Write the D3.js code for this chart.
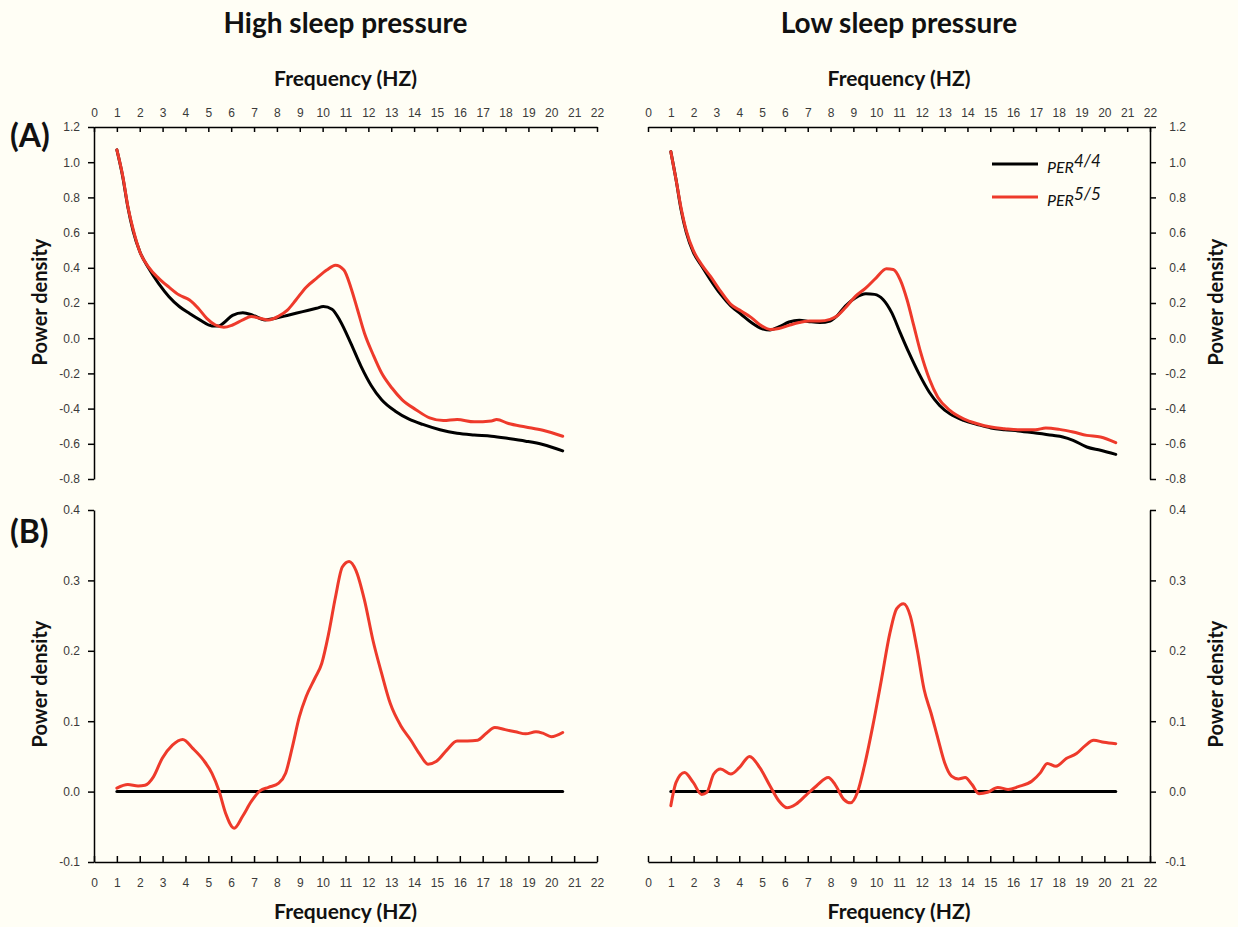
<!DOCTYPE html>
<html>
<head>
<meta charset="utf-8">
<script src="https://cdn.jsdelivr.net/npm/d3@7"></script>
<style>
  html, body { margin: 0; padding: 0; background: #fffef5; }
  svg { display: block; font-family: Lato, "Open Sans", sans-serif; }
  .tick text { fill: #3a3a3a; font-size: 12px; }
  .domain, .tick line { stroke: #000; stroke-width: 1.5px; }
</style>
</head>
<body>
<svg id="chart" width="1238" height="927"></svg>
<script>
// Tick values
const xTickValues = d3.range(0, 23);
const specTickValues = [-0.8, -0.6, -0.4, -0.2, 0.0, 0.2, 0.4, 0.6, 0.8, 1.0, 1.2];
const diffTickValues = [-0.1, 0.0, 0.1, 0.2, 0.3, 0.4];

// (A) High sleep pressure spectra
const highFreq44 = [1.00, 1.26, 1.48, 1.71, 2.01, 2.38, 2.83, 3.28, 3.73, 4.18, 4.63, 5.16, 5.46, 5.68, 6.06, 6.51, 6.96, 7.48, 7.93, 8.53, 9.13, 9.73, 10.03, 10.41, 10.78, 11.23, 11.68, 12.13, 12.58, 13.18, 13.78, 14.38, 15.13, 15.88, 16.63, 17.38, 18.13, 18.88, 19.63, 20.5];
const highPer44  = [1.07, 0.915, 0.745, 0.61, 0.49, 0.40, 0.31, 0.236, 0.18, 0.14, 0.104, 0.07, 0.07, 0.088, 0.13, 0.145, 0.13, 0.104, 0.113, 0.132, 0.151, 0.17, 0.18, 0.165, 0.095, -0.028, -0.16, -0.27, -0.35, -0.415, -0.46, -0.49, -0.52, -0.54, -0.55, -0.557, -0.57, -0.585, -0.604, -0.64];
const highFreq55 = [1.00, 1.26, 1.48, 1.71, 2.01, 2.38, 2.83, 3.28, 3.73, 4.18, 4.56, 4.93, 5.31, 5.68, 6.06, 6.51, 6.88, 7.26, 7.63, 8.08, 8.46, 8.83, 9.28, 9.73, 10.18, 10.56, 10.93, 11.23, 11.53, 11.83, 12.21, 12.58, 13.03, 13.48, 14.08, 14.68, 15.28, 15.88, 16.63, 17.38, 17.61, 18.13, 18.88, 19.63, 20.5];
const highPer55  = [1.07, 0.92, 0.75, 0.62, 0.49, 0.405, 0.34, 0.29, 0.245, 0.217, 0.17, 0.113, 0.075, 0.062, 0.075, 0.104, 0.123, 0.113, 0.104, 0.126, 0.16, 0.217, 0.29, 0.34, 0.387, 0.415, 0.387, 0.29, 0.16, 0.028, -0.094, -0.198, -0.283, -0.35, -0.406, -0.453, -0.468, -0.462, -0.475, -0.47, -0.462, -0.485, -0.504, -0.523, -0.557];

// (A) Low sleep pressure spectra
const lowFreq44 = [1.00, 1.23, 1.45, 1.68, 1.98, 2.35, 2.73, 3.18, 3.63, 4.08, 4.53, 4.98, 5.35, 5.73, 6.18, 6.63, 7.08, 7.53, 7.98, 8.28, 8.65, 9.10, 9.55, 9.93, 10.30, 10.68, 11.05, 11.43, 11.88, 12.33, 12.78, 13.23, 13.83, 14.43, 15.03, 15.63, 16.23, 16.98, 17.73, 18.18, 18.63, 19.23, 19.83, 20.5];
const lowPer44  = [1.06, 0.90, 0.73, 0.60, 0.49, 0.41, 0.333, 0.25, 0.183, 0.136, 0.089, 0.055, 0.047, 0.064, 0.092, 0.102, 0.094, 0.089, 0.098, 0.126, 0.183, 0.23, 0.252, 0.249, 0.22, 0.145, 0.032, -0.081, -0.203, -0.307, -0.382, -0.43, -0.467, -0.49, -0.51, -0.52, -0.527, -0.539, -0.552, -0.561, -0.58, -0.618, -0.637, -0.66];
const lowFreq55 = [1.00, 1.23, 1.45, 1.68, 1.98, 2.35, 2.73, 3.18, 3.63, 4.08, 4.53, 4.98, 5.35, 5.73, 6.18, 6.63, 7.08, 7.53, 7.98, 8.28, 8.65, 9.10, 9.55, 10.00, 10.45, 10.75, 11.05, 11.35, 11.65, 11.95, 12.33, 12.70, 13.23, 13.83, 14.43, 15.03, 15.63, 16.23, 16.98, 17.43, 18.03, 18.63, 19.23, 19.83, 20.5];
const lowPer55  = [1.06, 0.90, 0.74, 0.61, 0.50, 0.418, 0.352, 0.267, 0.192, 0.154, 0.117, 0.07, 0.05, 0.055, 0.073, 0.089, 0.098, 0.098, 0.107, 0.126, 0.173, 0.239, 0.286, 0.343, 0.394, 0.39, 0.333, 0.22, 0.07, -0.081, -0.232, -0.335, -0.41, -0.458, -0.486, -0.505, -0.514, -0.52, -0.52, -0.51, -0.518, -0.533, -0.552, -0.561, -0.593];

// (B) PER5/5 minus PER4/4
const refFreq = [1.0, 20.5];
const refDiff = [0.0, 0.0];
const highDiffFreq = [1.00, 1.48, 1.93, 2.23, 2.60, 2.98, 3.43, 3.88, 4.33, 4.78, 5.16, 5.46, 5.76, 6.13, 6.50, 6.88, 7.26, 7.63, 8.08, 8.38, 8.68, 8.98, 9.28, 9.66, 9.96, 10.26, 10.56, 10.86, 11.16, 11.46, 11.83, 12.20, 12.58, 12.96, 13.41, 13.86, 14.23, 14.61, 14.98, 15.43, 15.88, 16.33, 16.78, 17.16, 17.53, 17.98, 18.43, 18.88, 19.33, 19.63, 20.00, 20.5];
const highDiff     = [0.005, 0.010, 0.008, 0.009, 0.021, 0.047, 0.066, 0.074, 0.061, 0.045, 0.026, 0.002, -0.031, -0.052, -0.035, -0.014, 0.001, 0.006, 0.012, 0.026, 0.064, 0.106, 0.135, 0.161, 0.182, 0.224, 0.276, 0.319, 0.327, 0.314, 0.272, 0.215, 0.168, 0.125, 0.094, 0.073, 0.054, 0.039, 0.043, 0.059, 0.072, 0.072, 0.073, 0.083, 0.091, 0.088, 0.085, 0.082, 0.085, 0.083, 0.078, 0.084];
const lowDiffFreq = [1.00, 1.23, 1.60, 1.98, 2.35, 2.58, 2.88, 3.18, 3.63, 4.00, 4.45, 4.90, 5.35, 5.73, 6.10, 6.48, 6.93, 7.38, 7.90, 8.20, 8.58, 8.88, 9.18, 9.48, 9.85, 10.23, 10.60, 10.90, 11.20, 11.50, 11.80, 12.10, 12.40, 12.70, 13.00, 13.30, 13.60, 13.90, 14.20, 14.50, 14.88, 15.33, 15.78, 16.23, 16.83, 17.20, 17.50, 17.88, 18.33, 18.78, 19.15, 19.53, 19.98, 20.5];
const lowDiff     = [-0.02, 0.013, 0.027, 0.013, -0.004, -0.001, 0.025, 0.032, 0.025, 0.034, 0.05, 0.034, 0.008, -0.013, -0.023, -0.018, -0.005, 0.008, 0.02, 0.01, -0.011, -0.016, -0.001, 0.036, 0.093, 0.159, 0.225, 0.26, 0.267, 0.249, 0.201, 0.145, 0.112, 0.076, 0.041, 0.022, 0.018, 0.02, 0.01, -0.003, -0.001, 0.006, 0.003, 0.007, 0.015, 0.027, 0.04, 0.036, 0.047, 0.054, 0.065, 0.073, 0.07, 0.068];

const seriesNames = ["PER", "PER"];
const seriesSup = ["4/4", "5/5"];
const colors = { per44: "#000000", per55: "#ee3a2b" };

const svg = d3.select("#chart");
const fmt = d => d.toFixed(1);

const xLeft  = d3.scaleLinear().domain([0, 22]).range([94, 597]);
const xRight = d3.scaleLinear().domain([0, 22]).range([648, 1150]);
const ySpec  = d3.scaleLinear().domain([-0.8, 1.2]).range([479, 127]);
const yDiff  = d3.scaleLinear().domain([-0.1, 0.4]).range([862, 510]);

function drawLine(x, y, fx, fy, color) {
  const pts = fx.map((f, i) => [f, fy[i]]);
  svg.append("path")
    .datum(pts)
    .attr("fill", "none")
    .attr("stroke", color)
    .attr("stroke-width", 3)
    .attr("stroke-linejoin", "round")
    .attr("stroke-linecap", "round")
    .attr("d", d3.line().x(d => x(d[0])).y(d => y(d[1])).curve(d3.curveMonotoneX));
}

// Axes
function topAxis(x) {
  svg.append("g").attr("transform", `translate(0,${ySpec(1.2)})`)
    .call(d3.axisTop(x).tickValues(xTickValues).tickSizeInner(-5).tickSizeOuter(0).tickPadding(10).tickFormat(d3.format("d")));
}
function bottomAxis(x) {
  svg.append("g").attr("transform", `translate(0,${yDiff(-0.1)})`)
    .call(d3.axisBottom(x).tickValues(xTickValues).tickSizeInner(-6).tickSizeOuter(0).tickPadding(16).tickFormat(d3.format("d")));
}
topAxis(xLeft); topAxis(xRight);
bottomAxis(xLeft); bottomAxis(xRight);

svg.append("g").attr("transform", `translate(${xLeft(0)},0)`)
  .call(d3.axisLeft(ySpec).tickValues(specTickValues).tickSize(6).tickSizeOuter(0).tickPadding(8).tickFormat(fmt));
svg.append("g").attr("transform", `translate(${xLeft(0)},0)`)
  .call(d3.axisLeft(yDiff).tickValues(diffTickValues).tickSize(6).tickSizeOuter(0).tickPadding(8).tickFormat(fmt));

function rightAxis(y, ticks) {
  const g = svg.append("g").attr("transform", `translate(${xRight(22)},0)`)
    .call(d3.axisRight(y).tickValues(ticks).tickSize(6).tickSizeOuter(0).tickFormat(fmt));
  g.selectAll(".tick text").attr("text-anchor", "end").attr("x", 36);
}
rightAxis(ySpec, specTickValues);
rightAxis(yDiff, diffTickValues);

// Curves
drawLine(xLeft, ySpec, highFreq44, highPer44, colors.per44);
drawLine(xLeft, ySpec, highFreq55, highPer55, colors.per55);
drawLine(xRight, ySpec, lowFreq44, lowPer44, colors.per44);
drawLine(xRight, ySpec, lowFreq55, lowPer55, colors.per55);

drawLine(xLeft, yDiff, refFreq, refDiff, colors.per44);
drawLine(xLeft, yDiff, highDiffFreq, highDiff, colors.per55);
drawLine(xRight, yDiff, refFreq, refDiff, colors.per44);
drawLine(xRight, yDiff, lowDiffFreq, lowDiff, colors.per55);

// Text
const bold = (sel) => sel.attr("font-weight", 700).attr("fill", "#111");
const midL = (xLeft(0) + xLeft(22)) / 2;
const midR = (xRight(0) + xRight(22)) / 2;

bold(svg.append("text").attr("x", midL).attr("y", 33).attr("text-anchor", "middle").attr("font-size", 28).text("High sleep pressure"));
bold(svg.append("text").attr("x", midR).attr("y", 33).attr("text-anchor", "middle").attr("font-size", 28).text("Low sleep pressure"));

[midL, midR].forEach(m => {
  bold(svg.append("text").attr("x", m).attr("y", 86).attr("text-anchor", "middle").attr("font-size", 21).text("Frequency (HZ)"));
  bold(svg.append("text").attr("x", m).attr("y", 919).attr("text-anchor", "middle").attr("font-size", 21).text("Frequency (HZ)"));
});

bold(svg.append("text").attr("x", 10).attr("y", 147).attr("font-size", 32).text("(A)"));
bold(svg.append("text").attr("x", 10).attr("y", 543).attr("font-size", 32).text("(B)"));

function yLabel(x, yc) {
  bold(svg.append("text").attr("transform", `translate(${x},${yc}) rotate(-90)`)
    .attr("text-anchor", "middle").attr("font-size", 20).text("Power density"));
}
yLabel(47, 302);
yLabel(47, 684);
yLabel(1223, 302);
yLabel(1223, 684);

// Legend
const legend = svg.append("g").attr("transform", "translate(992,164)");
[colors.per44, colors.per55].forEach((c, i) => {
  const row = legend.append("g").attr("transform", `translate(0,${i * 33})`);
  row.append("line").attr("x1", 0).attr("x2", 46).attr("stroke", c).attr("stroke-width", 3);
  const t = row.append("text").attr("x", 55).attr("y", 9).attr("font-style", "italic")
    .attr("font-size", 16).attr("fill", "#111");
  t.append("tspan").text(seriesNames[i]);
  t.append("tspan").attr("dy", -6).attr("font-size", 17).text(seriesSup[i]);
});
</script>
</body>
</html>
